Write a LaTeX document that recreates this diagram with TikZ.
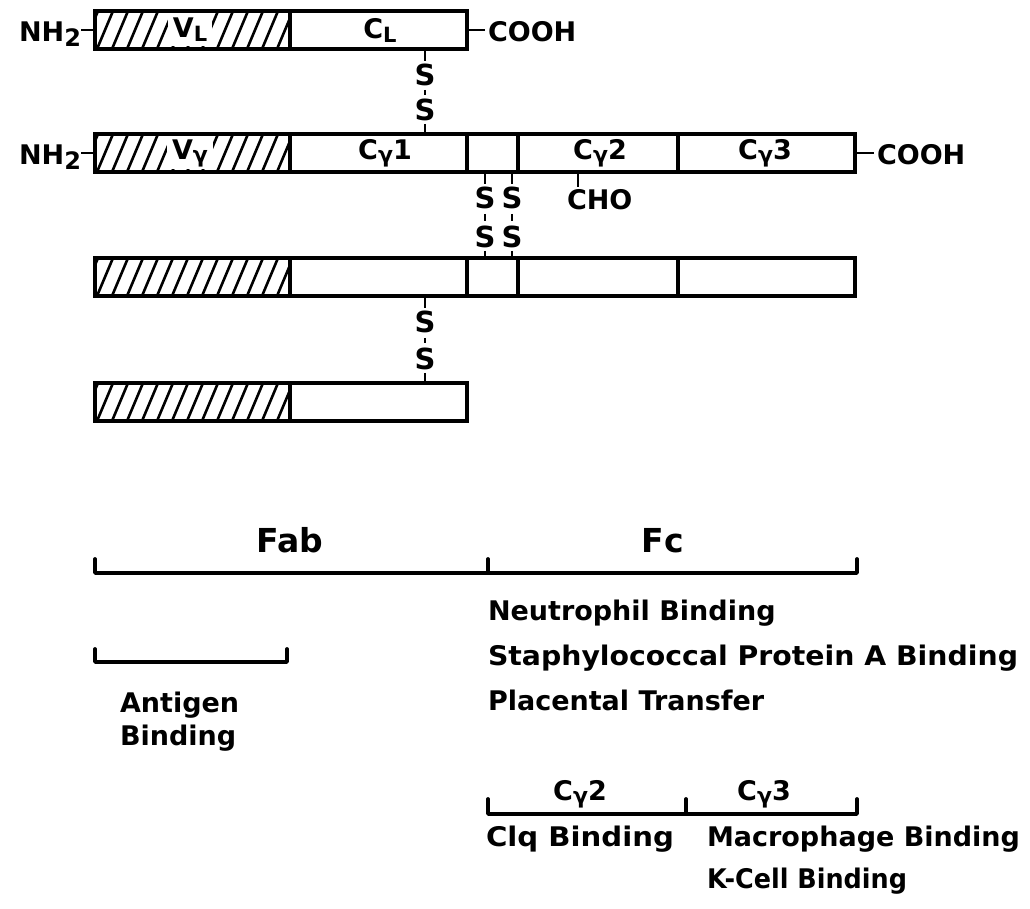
\documentclass[tikz,border=0pt]{standalone}
\usepackage{fontspec}
\setmainfont{DejaVu Sans}
\usepackage{graphicx}
\newcommand\fitto[2]{\resizebox{#1pt}{\height}{#2}}
\newcommand\lsub[1]{\raisebox{-4pt}{\fontsize{21}{21}\selectfont #1}}
\newcommand\nsub[1]{\raisebox{-5pt}{\fontsize{24}{24}\selectfont #1}}
\newcommand\gsub{\raisebox{-3pt}{\fontsize{22}{22}\selectfont γ}}
\begin{document}
\begin{tikzpicture}[x=1pt,y=-1pt,
  every node/.style={font=\fontsize{27}{30}\selectfont\bfseries, inner sep=0pt, outer sep=0pt},
  seg/.style={draw, line width=3.8pt, minimum height=38pt, anchor=west, inner sep=0pt, outer sep=0pt},
  hatched/.style={seg, path picture={
     \foreach \k in {-3,...,14}{
       \draw[line width=2.6pt] ([xshift=\k*15pt+2pt]path picture bounding box.south west) -- ++(16pt,38pt);
     }}},
  lbl/.style={fill=white, inner xsep=5pt, minimum height=33pt},
  tick/.style={line width=2.6pt},
  ess/.style={font=\fontsize{29}{30}\selectfont\bfseries},
  brk/.style={line width=3.8pt, line cap=round, line join=round},
  fn/.style={anchor=base west},
  big/.style={font=\fontsize{33}{36}\selectfont\bfseries, anchor=base},
]
\useasboundingbox (0,0) rectangle (1030,909);

% ---- row 1: light chain
\node[hatched, minimum width=195pt] (v1) at (95,30) {};
\node[seg, minimum width=177pt] (c1) at (290,30) {};
\node[lbl] (vl) at (190,30) {V\lsub{L}};
\node (cl) at (380,30) {C\lsub{L}};
\node[anchor=base east] (nh1) at (81,42) {NH\nsub{2}};
\node[anchor=base west] (co1) at (488,42) {COOH};
\draw[tick] (nh1.east |- v1.west) -- (v1.west);
\draw[tick, shorten >=3pt] (c1.east) -- (co1.west |- c1.east);

% ---- row 2: heavy chain
\node[hatched, minimum width=195pt] (v2) at (95,153) {};
\node[seg, minimum width=177pt] (c21) at (290,153) {};
\node[seg, minimum width=51pt] (h2) at (467,153) {};
\node[seg, minimum width=160pt] (c22) at (518,153) {};
\node[seg, minimum width=177pt] (c23) at (678,153) {};
\node[lbl] (vg) at (190,153) {V\gsub};
\node (cg1) at (385,153) {C\gsub 1};
\node (cg2) at (600,153) {C\gsub 2};
\node (cg3) at (765,153) {C\gsub 3};
\node[anchor=base east] (nh2) at (81,165) {NH\nsub{2}};
\node[anchor=base west] (co2) at (877,165) {COOH};
\draw[tick] (nh2.east |- v2.west) -- (v2.west);
\draw[tick, shorten >=3pt] (c23.east) -- (co2.west |- c23.east);

% ---- row 3: heavy chain
\node[hatched, minimum width=195pt] (v3) at (95,277) {};
\node[seg, minimum width=177pt] (c31) at (290,277) {};
\node[seg, minimum width=51pt] (h3) at (467,277) {};
\node[seg, minimum width=160pt] (c32) at (518,277) {};
\node[seg, minimum width=177pt] (c33) at (678,277) {};

% ---- row 4: light chain
\node[hatched, minimum width=195pt] (v4) at (95,402) {};
\node[seg, minimum width=177pt] (c4) at (290,402) {};

% ---- disulfide bonds
\node[ess] (sa1) at (425,75) {S};
\node[ess] (sb1) at (425,110) {S};
\draw[tick, shorten >=3pt] (c1.south -| sa1) -- (sa1.north);
\draw[tick, shorten <=4pt, shorten >=4pt] (sa1.south) -- (sb1.north);
\draw[tick, shorten <=3pt] (sb1.south) -- (c21.north -| sb1);

\node[ess] (sa2) at (485,198) {S};
\node[ess] (sb2) at (485,237) {S};
\node[ess] (sa3) at (512,198) {S};
\node[ess] (sb3) at (512,237) {S};
\draw[tick, shorten >=3pt] (h2.south -| sa2) -- (sa2.north);
\draw[tick, shorten <=5pt, shorten >=5pt] (sa2.south) -- (sb2.north);
\draw[tick, shorten <=3pt] (sb2.south) -- (h3.north -| sb2);
\draw[tick, shorten >=3pt] (h2.south -| sa3) -- (sa3.north);
\draw[tick, shorten <=5pt, shorten >=5pt] (sa3.south) -- (sb3.north);
\draw[tick, shorten <=3pt] (sb3.south) -- (h3.north -| sb3);

\node[ess] (sa4) at (425,322) {S};
\node[ess] (sb4) at (425,359) {S};
\draw[tick, shorten >=3pt] (c31.south -| sa4) -- (sa4.north);
\draw[tick, shorten <=5pt, shorten >=5pt] (sa4.south) -- (sb4.north);
\draw[tick, shorten <=3pt] (sb4.south) -- (c4.north -| sb4);

% ---- carbohydrate
\node[anchor=west] (cho) at (567,200) {CHO};
\coordinate (chot) at (578,200);
\draw[tick, shorten >=3pt] (c22.south -| chot) -- (cho.north -| chot);

% ---- Fab / Fc
\node[big] (fab) at (290,552) {Fab};
\node[big] (fc) at (663,552) {Fc};
\coordinate (b1l) at (95,573);
\coordinate (b1m) at (488,573);
\coordinate (b1r) at (857,573);
\draw[brk] (b1l) ++(0,-14) -- (b1l) -- (b1r) -- ++(0,-14);
\draw[brk] (b1m) -- ++(0,-14);

\node[fn] (t1) at (488,620) {Neutrophil Binding};
\node[fn] (t2) at (488,665) {\fitto{530}{Staphylococcal Protein A Binding}};
\node[fn] (t3) at (488,710) {Placental Transfer};

% ---- antigen binding
\coordinate (b2l) at (95,662);
\coordinate (b2r) at (287,662);
\draw[brk] (b2l) ++(0,-13) -- (b2l) -- (b2r) -- ++(0,-13);
\node[fn] (t4) at (120,712) {Antigen};
\node[fn] (t5) at (120,745) {Binding};

% ---- C gamma 2 / C gamma 3
\node[anchor=base] (bg2) at (580,800) {C\gsub 2};
\node[anchor=base] (bg3) at (764,800) {C\gsub 3};
\coordinate (b3l) at (488,814);
\coordinate (b3m) at (686,814);
\coordinate (b3r) at (857,814);
\draw[brk] (b3l) ++(0,-15) -- (b3l) -- (b3r) -- ++(0,-15);
\draw[brk] (b3m) -- ++(0,-15);

\node[fn] (t6) at (486,846) {\fitto{188}{Clq Binding}};
\node[fn] (t7) at (707,846) {Macrophage Binding};
\node[fn] (t8) at (707,888) {\fitto{200}{K-Cell Binding}};
\end{tikzpicture}
\end{document}
